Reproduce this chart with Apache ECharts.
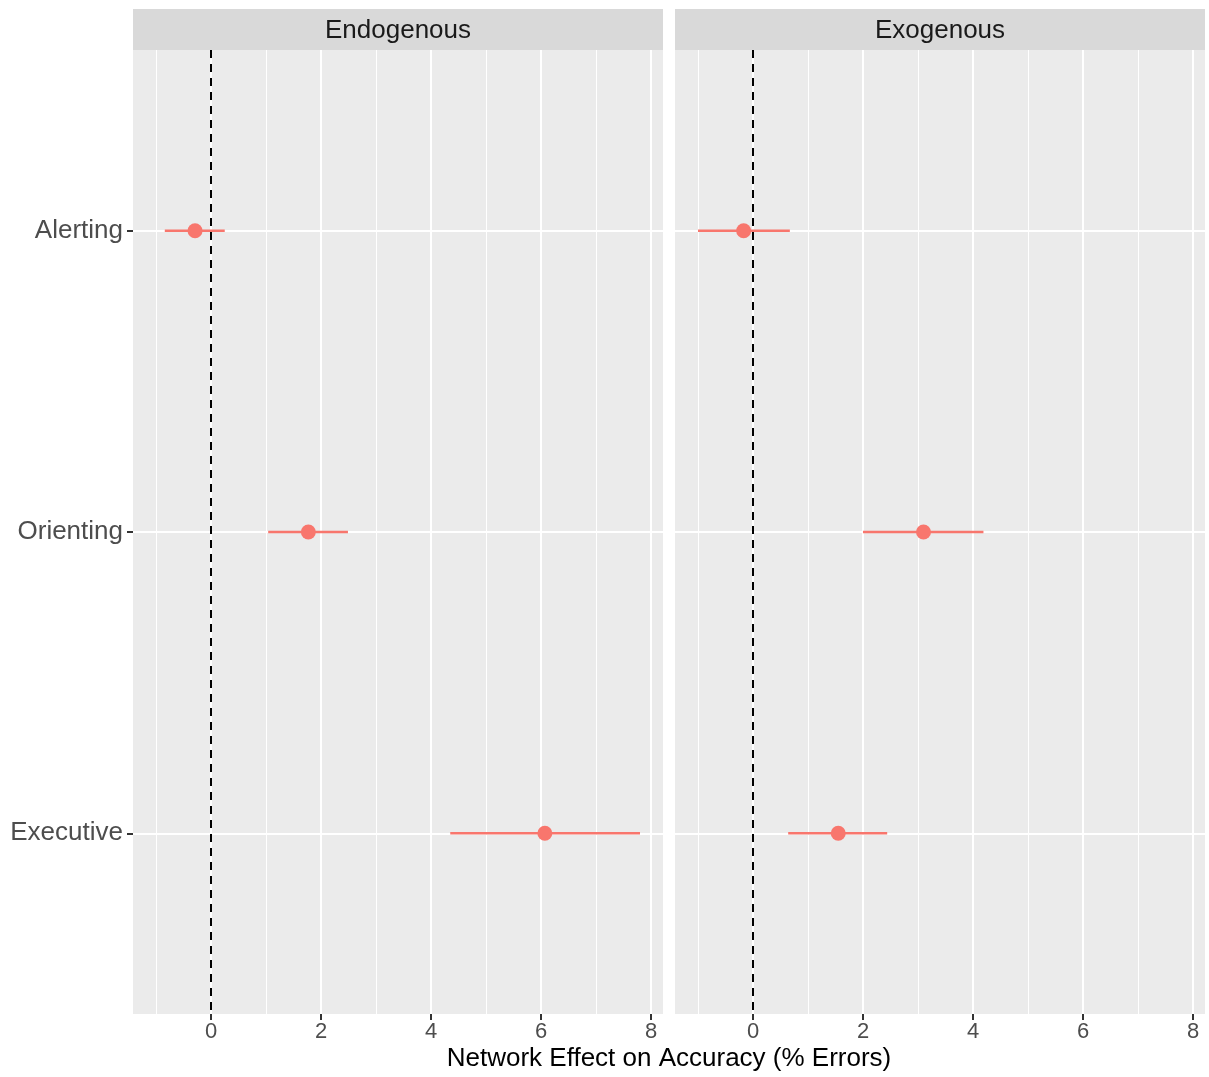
<!DOCTYPE html>
<html>
<head>
<meta charset="utf-8">
<script src="https://cdn.jsdelivr.net/npm/echarts@6/dist/echarts.min.js"></script>
<style>
html,body{margin:0;padding:0;background:#fff;}
#chart{width:1209px;height:1077px;}
</style>
</head>
<body>
<div id="chart"></div>
<script>
const panels = ['Endogenous', 'Exogenous'];
const categories = ['Alerting', 'Orienting', 'Executive'];
const endoEst = [-0.29, 1.77, 6.07];
const endoLo = [-0.84, 1.04, 4.35];
const endoHi = [0.25, 2.49, 7.80];
const exoEst = [-0.17, 3.10, 1.55];
const exoLo = [-1.00, 2.00, 0.64];
const exoHi = [0.67, 4.19, 2.44];
const xMajorTicks = [0, 2, 4, 6, 8];
const xMinorTicks = [-1, 1, 3, 5, 7];
const yTicks = [1, 2, 3];
const xTitle = 'Network Effect on Accuracy (% Errors)';

const COLOR = '#F8766D';
const FONT = 'Liberation Sans, Arial, Helvetica, sans-serif';
const XMIN = -1.418, XMAX = 8.218;

const chart = echarts.init(document.getElementById('chart'), null, {renderer: 'canvas'});

const grids = [
  {left: 133, width: 530, top: 50, height: 964, show: true, backgroundColor: '#EBEBEB', borderWidth: 0},
  {left: 675, width: 530, top: 50, height: 964, show: true, backgroundColor: '#EBEBEB', borderWidth: 0}
];

const xAxes = [];
const yAxes = [];
[0, 1].forEach(function (g) {
  xAxes.push({
    type: 'value', gridIndex: g, min: XMIN, max: XMAX,
    axisLine: {show: false, onZero: false},
    axisTick: {show: true, customValues: xMajorTicks, length: 6, lineStyle: {color: '#333333', width: 2}},
    axisLabel: {show: true, customValues: xMajorTicks, fontSize: 22, color: '#4D4D4D', fontFamily: FONT, margin: 7},
    splitLine: {show: true, lineStyle: {color: '#FFFFFF', width: 2}},
    z: 1
  });
});
[0, 1].forEach(function (g) {
  xAxes.push({
    type: 'value', gridIndex: g, min: XMIN, max: XMAX,
    axisLine: {show: false, onZero: false},
    axisTick: {show: false, customValues: xMinorTicks},
    axisLabel: {show: false},
    splitLine: {show: true, lineStyle: {color: '#FFFFFF', width: 1}},
    z: 0
  });
});
[0, 1].forEach(function (g) {
  yAxes.push({
    type: 'value', gridIndex: g, min: 0.4, max: 3.6, inverse: true,
    axisLine: {show: false, onZero: false},
    axisTick: {show: g === 0, customValues: yTicks, length: 6, lineStyle: {color: '#333333', width: 2}},
    axisLabel: {show: g === 0, customValues: yTicks, fontSize: 26, color: '#4D4D4D', fontFamily: FONT, margin: 10,
      formatter: function (v) { return categories[Math.round(v) - 1] || ''; }},
    splitLine: {show: true, lineStyle: {color: '#FFFFFF', width: 2}}
  });
});

function barData(lo, hi) {
  return categories.map(function (c, i) { return [i + 1, lo[i], hi[i]]; });
}
function pointData(est) {
  return categories.map(function (c, i) { return [est[i], i + 1]; });
}

function renderBar(params, api) {
  const y = api.value(0);
  const p1 = api.coord([api.value(1), y]);
  const p2 = api.coord([api.value(2), y]);
  return {
    type: 'line',
    shape: {x1: p1[0], y1: p1[1], x2: p2[0], y2: p2[1]},
    style: {stroke: COLOR, lineWidth: 2.5}
  };
}

const series = [];
const ests = [endoEst, exoEst], los = [endoLo, exoLo], his = [endoHi, exoHi];
[0, 1].forEach(function (g) {
  series.push({
    type: 'custom', xAxisIndex: g, yAxisIndex: g,
    renderItem: renderBar,
    encode: {x: [1, 2], y: 0},
    data: barData(los[g], his[g]),
    silent: true, z: 3,
    markLine: {
      silent: true, symbol: ['none', 'none'],
      label: {show: false},
      lineStyle: {color: '#000000', type: [8, 6], width: 2},
      data: [{xAxis: 0}],
      animation: false
    }
  });
  series.push({
    type: 'scatter', xAxisIndex: g, yAxisIndex: g,
    symbol: 'circle', symbolSize: 15,
    itemStyle: {color: COLOR, opacity: 1},
    data: pointData(ests[g]),
    silent: true, z: 4
  });
});

const graphics = [];
[0, 1].forEach(function (g) {
  const left = grids[g].left;
  graphics.push({
    type: 'rect', left: left, top: 9,
    shape: {width: 530, height: 41},
    style: {fill: '#D9D9D9'}, silent: true
  });
  graphics.push({
    type: 'text', x: left + 265, y: 31,
    style: {text: panels[g], fill: '#1A1A1A', font: '26px ' + FONT, textAlign: 'center', textVerticalAlign: 'middle'},
    silent: true
  });
});
graphics.push({
  type: 'text', x: 669, y: 1059,
  style: {text: xTitle, fill: '#000000', font: '26px ' + FONT, textAlign: 'center', textVerticalAlign: 'middle'},
  silent: true
});

chart.setOption({
  animation: false,
  backgroundColor: '#FFFFFF',
  grid: grids,
  xAxis: xAxes,
  yAxis: yAxes,
  series: series,
  graphic: graphics
});
</script>
</body>
</html>
